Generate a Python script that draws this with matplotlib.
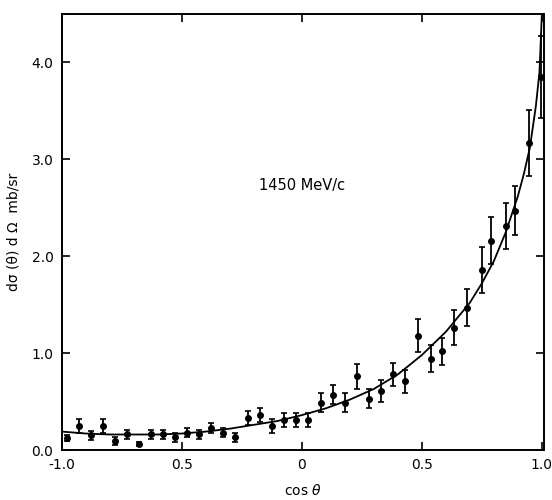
import matplotlib
matplotlib.use("Agg")
import matplotlib.pyplot as plt
import numpy as np

cos_theta = [-0.98, -0.93, -0.88, -0.83, -0.78, -0.73, -0.68, -0.63, -0.58, -0.53,
             -0.48, -0.43, -0.38, -0.33, -0.28, -0.225, -0.175, -0.125, -0.075, -0.025,
             0.025, 0.08, 0.13, 0.18, 0.23, 0.28, 0.33, 0.38, 0.43, 0.485,
             0.54, 0.585, 0.635, 0.69, 0.75, 0.79, 0.85, 0.89, 0.945, 0.995]
dsig = [0.12, 0.25, 0.15, 0.25, 0.09, 0.16, 0.06, 0.16, 0.16, 0.13,
        0.18, 0.16, 0.23, 0.18, 0.13, 0.33, 0.36, 0.25, 0.31, 0.31,
        0.31, 0.49, 0.57, 0.49, 0.76, 0.53, 0.61, 0.78, 0.71, 1.18,
        0.94, 1.02, 1.26, 1.47, 1.86, 2.16, 2.31, 2.47, 3.17, 3.85]
err = [0.03, 0.075, 0.045, 0.07, 0.04, 0.05, 0.02, 0.05, 0.05, 0.045,
       0.05, 0.05, 0.05, 0.045, 0.045, 0.07, 0.07, 0.07, 0.07, 0.07,
       0.07, 0.1, 0.1, 0.1, 0.13, 0.1, 0.11, 0.12, 0.12, 0.17,
       0.14, 0.14, 0.18, 0.19, 0.24, 0.24, 0.24, 0.25, 0.34, 0.42]

# fitted curve
curve_x = [-1.0, -0.9, -0.8, -0.7, -0.6, -0.5, -0.4, -0.3, -0.2, -0.1, 0.0,
           0.1, 0.2, 0.3, 0.4, 0.5, 0.6, 0.7, 0.75, 0.8, 0.85, 0.9, 0.925,
           0.95, 0.975, 0.99, 1.0]
curve_y = [0.19, 0.17, 0.16, 0.16, 0.16, 0.17, 0.19, 0.22, 0.26, 0.30, 0.36,
           0.43, 0.52, 0.63, 0.78, 0.98, 1.22, 1.52, 1.72, 1.95, 2.25, 2.62, 2.85,
           3.12, 3.55, 3.9, 4.5]

xticks = [-1.0, -0.5, 0.0, 0.5, 1.0]
xtick_labels = ["-1.0", "0.5", "0", "0.5", "1.0"]
yticks = [0.0, 1.0, 2.0, 3.0, 4.0]
ytick_labels = ["0.0", "1.0", "2.0", "3.0", "4.0"]

plt.rcParams["font.family"] = ["DejaVu Sans"]

fig = plt.figure(figsize=(5.52, 5.0), dpi=100)
ax = fig.add_axes([0.112, 0.10, 0.874, 0.872])

ax.plot(curve_x, curve_y, color="black", lw=1.3)
ax.errorbar(cos_theta, dsig, yerr=err, fmt="o", color="black", ms=4,
            elinewidth=1.3, capsize=2.5, capthick=1.2)

ax.set_xlim(-1.0, 1.01)
ax.set_ylim(0, 4.5)
ax.set_xticks(xticks, xtick_labels)
ax.set_yticks(yticks, ytick_labels)
ax.tick_params(direction="in", top=True, right=True, length=6, width=1.2,
               labelsize=10, pad=6)
for s in ax.spines.values():
    s.set_linewidth(1.4)

ax.set_xlabel(r"cos $\it{\theta}$", fontsize=10, labelpad=8)
ax.set_ylabel("dσ (θ) d Ω  mb/sr", fontsize=10, labelpad=8)
ax.text(0.0, 2.73, "1450 MeV/c", fontsize=10.5, ha="center", va="center")

fig.savefig("out.png", dpi=100)
